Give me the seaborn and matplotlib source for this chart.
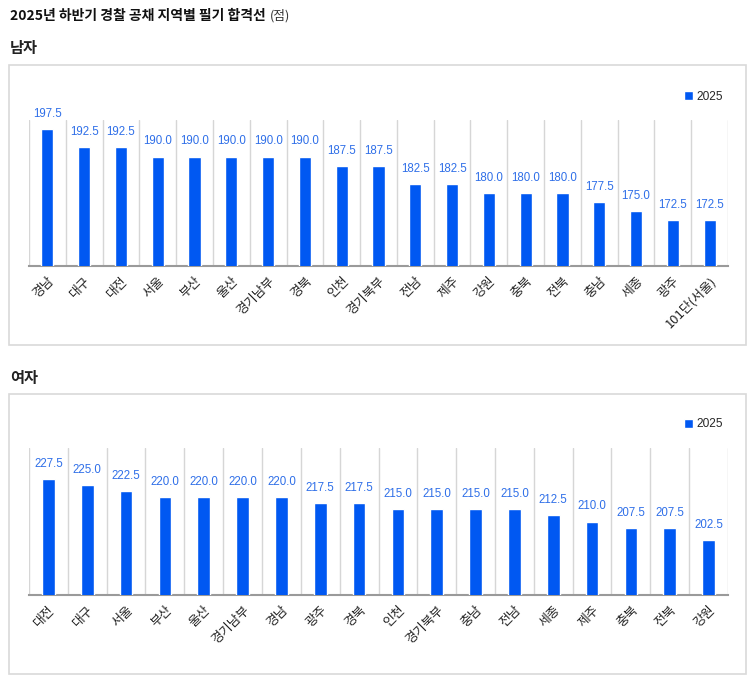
import pandas as pd
import seaborn as sns
import matplotlib.pyplot as plt
from matplotlib.patches import Rectangle

# 남자 합격선
male_regions = ["경남", "대구", "대전", "서울", "부산", "울산", "경기남부", "경북", "인천", "경기북부",
                "전남", "제주", "강원", "충북", "전북", "충남", "세종", "광주", "101단(서울)"]
male_scores = [197.5, 192.5, 192.5, 190.0, 190.0, 190.0, 190.0, 190.0, 187.5, 187.5,
               182.5, 182.5, 180.0, 180.0, 180.0, 177.5, 175.0, 172.5, 172.5]

# 여자 합격선
female_regions = ["대전", "대구", "서울", "부산", "울산", "경기남부", "경남", "광주", "경북",
                  "인천", "경기북부", "충남", "전남", "세종", "제주", "충북", "전북", "강원"]
female_scores = [227.5, 225.0, 222.5, 220.0, 220.0, 220.0, 220.0, 217.5, 217.5,
                 215.0, 215.0, 215.0, 215.0, 212.5, 210.0, 207.5, 207.5, 202.5]

BAR = "#0058f2"
LABEL = "#2f6fe8"
KR = ["Noto Sans CJK KR", "DejaVu Sans"]

sns.set_theme(style="white")
plt.rcParams["font.family"] = KR

W, H = 747, 675
fig = plt.figure(figsize=(W / 100, H / 100), dpi=100)


def px_axes(left, top, right, bottom):
    return fig.add_axes([left / W, 1 - bottom / H, (right - left) / W, (bottom - top) / H])


def draw_panel(ax, regions, scores, ylim, width):
    df = pd.DataFrame({"region": regions, "score": scores})
    sns.barplot(data=df, x="region", y="score", color=BAR, width=width,
                saturation=1, label="2025", ax=ax, zorder=3)
    ax.set_ylim(*ylim)
    n = len(regions)
    ax.set_xlim(-0.5, n - 0.5)
    for b in range(n + 1):
        ax.axvline(b - 0.5, color="#d6d6d6", lw=1, zorder=1)
    ax.bar_label(ax.containers[0], fmt="%.1f", padding=6.5, color=LABEL,
                 fontsize=8.3, family="Liberation Sans")
    ax.set_xlabel("")
    ax.set_ylabel("")
    ax.set_yticks([])
    for s in ["top", "left", "right"]:
        ax.spines[s].set_visible(False)
    ax.spines["bottom"].set_color("#9a9a9a")
    ax.spines["bottom"].set_linewidth(1.5)
    ax.tick_params(axis="x", length=0, pad=6)
    plt.setp(ax.get_xticklabels(), rotation=45, ha="right", rotation_mode="anchor",
             fontsize=9.3, color="#222222")
    ax.legend(loc="center right", bbox_to_anchor=(1.0, 1.16), frameon=False,
              handlelength=0.75, handleheight=0.75, handletextpad=0.3,
              borderaxespad=0, prop={"family": "Liberation Sans", "size": 8.6})


# 패널 테두리
for top, bottom in [(65, 345), (394, 674)]:
    fig.patches.append(Rectangle((9 / W, 1 - bottom / H), 737 / W, (bottom - top) / H,
                                 transform=fig.transFigure, fill=False,
                                 edgecolor="#d9d9d9", lw=1.2))

ax1 = px_axes(29, 120, 728, 266)
draw_panel(ax1, male_regions, male_scores, (160, 200), 0.33)

ax2 = px_axes(29, 448, 728, 595)
draw_panel(ax2, female_regions, female_scores, (180, 240), 0.33)

title = fig.text(10 / W, 1 - 16 / H, "2025년 하반기 경찰 공채 지역별 필기 합격선", fontsize=10,
                 fontweight="bold", va="center", ha="left", color="#111111")
bb = title.get_window_extent(renderer=fig.canvas.get_renderer())
fig.text((bb.x1 + 4) / W, 1 - 16 / H, "(점)", fontsize=9.2, va="center", ha="left", color="#333333")
fig.text(10 / W, 1 - 48 / H, "남자", fontsize=11, fontweight="bold", va="center", color="#222222")
fig.text(10 / W, 1 - 378 / H, "여자", fontsize=11, fontweight="bold", va="center", color="#222222")

fig.savefig("out.png", dpi=100)
